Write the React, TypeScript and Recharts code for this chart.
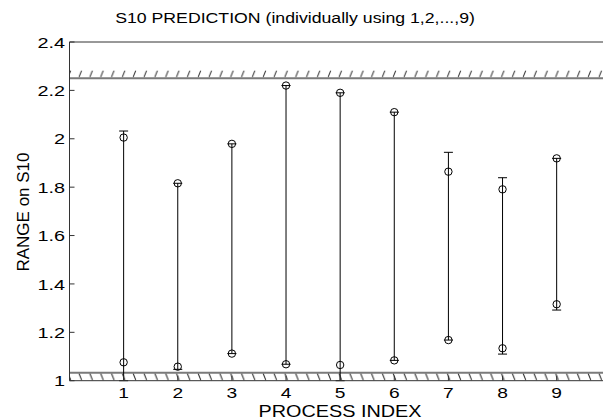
import React from 'react';
import {
  ComposedChart,
  XAxis,
  YAxis,
  Scatter,
  ErrorBar,
  ReferenceLine,
  ReferenceArea,
} from 'recharts';

// Process indices
const processIndex = [1, 2, 3, 4, 5, 6, 7, 8, 9];
// Upper circle value
const upperValues = [2.005, 1.816, 1.979, 2.22, 2.19, 2.11, 1.864, 1.791, 1.919];
// Lower circle value
const lowerValues = [1.076, 1.058, 1.112, 1.068, 1.065, 1.084, 1.168, 1.134, 1.316];
// Top end of the range line
const upperEnds = [2.032, 1.816, 1.979, 2.22, 2.19, 2.11, 1.944, 1.839, 1.919];
// Bottom end of the range line
const lowerEnds = [1.0, 1.047, 1.112, 1.068, 1.0, 1.084, 1.168, 1.11, 1.292];

const xTicks = [1, 2, 3, 4, 5, 6, 7, 8, 9];
const yTicks = [1, 1.2, 1.4, 1.6, 1.8, 2, 2.2, 2.4];

const upperLimit = 2.25;
const lowerLimit = 1.033;

const upperData = processIndex.map((x, i) => ({
  x,
  y: upperValues[i],
  err: [upperValues[i] - lowerEnds[i], upperEnds[i] - upperValues[i]],
}));
const lowerData = processIndex.map((x, i) => ({ x, y: lowerValues[i] }));

const FONT = '"Liberation Sans", Arial, Helvetica, sans-serif';
const STRETCH = 1.28;

const Ring = (props: any) => {
  const { cx, cy } = props;
  if (cx == null || cy == null) return null;
  return <circle cx={cx} cy={cy} r={3.7} fill="none" stroke="#000" strokeWidth={1} />;
};

const YTick = (props: any) => {
  const { x, y, payload } = props;
  return (
    <text transform={`translate(${x},${y}) scale(${STRETCH},1)`} textAnchor="end" dy="0.36em" fontSize={15.5} fontFamily={FONT} fill="#000">
      {String(payload.value)}
    </text>
  );
};

const XTick = (props: any) => {
  const { x, y, payload } = props;
  return (
    <text transform={`translate(${x},${y}) scale(${STRETCH},1)`} textAnchor="middle" dy="0.72em" fontSize={15} fontFamily={FONT} fill="#000">
      {String(payload.value)}
    </text>
  );
};

export default function App() {
  return (
    <div style={{ position: 'absolute', left: 0, top: 0, width: 603, height: 419, overflow: 'hidden', background: '#fff' }}>
      <svg width={0} height={0} style={{ position: 'absolute' }}>
        <defs>
          <pattern id="hatchTop" patternUnits="userSpaceOnUse" x={64.1} y={69.6} width={10.833} height={200}>
            <line x1={4} y1={7.6} x2={6.8} y2={0.6} stroke="#222" strokeWidth={1} />
          </pattern>
          <pattern id="hatchBot" patternUnits="userSpaceOnUse" x={64.1} y={372.7} width={10.833} height={200}>
            <line x1={4} y1={0.5} x2={6.8} y2={7.6} stroke="#222" strokeWidth={1} />
          </pattern>
        </defs>
      </svg>
      <ComposedChart
        width={620}
        height={419}
        margin={{ top: 41, right: 9.2, left: 0, bottom: 8.3 }}
        style={{ fontFamily: FONT }}
      >
        <XAxis
          xAxisId={0}
          type="number"
          dataKey="x"
          domain={[0, 10]}
          ticks={xTicks}
          allowDataOverflow
          height={30}
          tickSize={-5}
          tickMargin={11}
          stroke="#333"
          tick={<XTick />}
        />
        <XAxis
          xAxisId="top"
          orientation="top"
          type="number"
          domain={[0, 10]}
          ticks={xTicks}
          allowDataOverflow
          height={1}
          tickSize={-5}
          tickFormatter={() => ''}
          stroke="#333"
        />
        <YAxis
          type="number"
          dataKey="y"
          domain={[1, 2.4]}
          ticks={yTicks}
          allowDataOverflow
          width={69.5}
          tickSize={-5}
          tickMargin={9.5}
          stroke="#333"
          tick={<YTick />}
        />
        <ReferenceArea y1={upperLimit} y2={2.2818} fill="url(#hatchTop)" fillOpacity={1} stroke="none" />
        <ReferenceArea y1={1} y2={lowerLimit} fill="url(#hatchBot)" fillOpacity={1} stroke="none" />
        <ReferenceLine y={upperLimit} stroke="#7a7a7a" strokeWidth={2} />
        <ReferenceLine y={lowerLimit} stroke="#7a7a7a" strokeWidth={2} />
        <Scatter data={upperData} shape={<Ring />} isAnimationActive={false}>
          <ErrorBar dataKey="err" direction="y" width={4.5} stroke="#000" strokeWidth={1} isAnimationActive={false} />
        </Scatter>
        <Scatter data={lowerData} shape={<Ring />} isAnimationActive={false} />
        <text transform="translate(295,23) scale(1.18,1)" textAnchor="middle" fontSize={15} fontFamily={FONT} fill="#000">
          S10 PREDICTION (individually using 1,2,...,9)
        </text>
        <text transform="translate(340,416.5) scale(1.24,1)" textAnchor="middle" fontSize={16} fontFamily={FONT} fill="#000">
          PROCESS INDEX
        </text>
        <text x={29} y={212} textAnchor="middle" fontSize={17} fontFamily={FONT} fill="#000" transform="rotate(-90 29 212)">
          RANGE on S10
        </text>
      </ComposedChart>
    </div>
  );
}
